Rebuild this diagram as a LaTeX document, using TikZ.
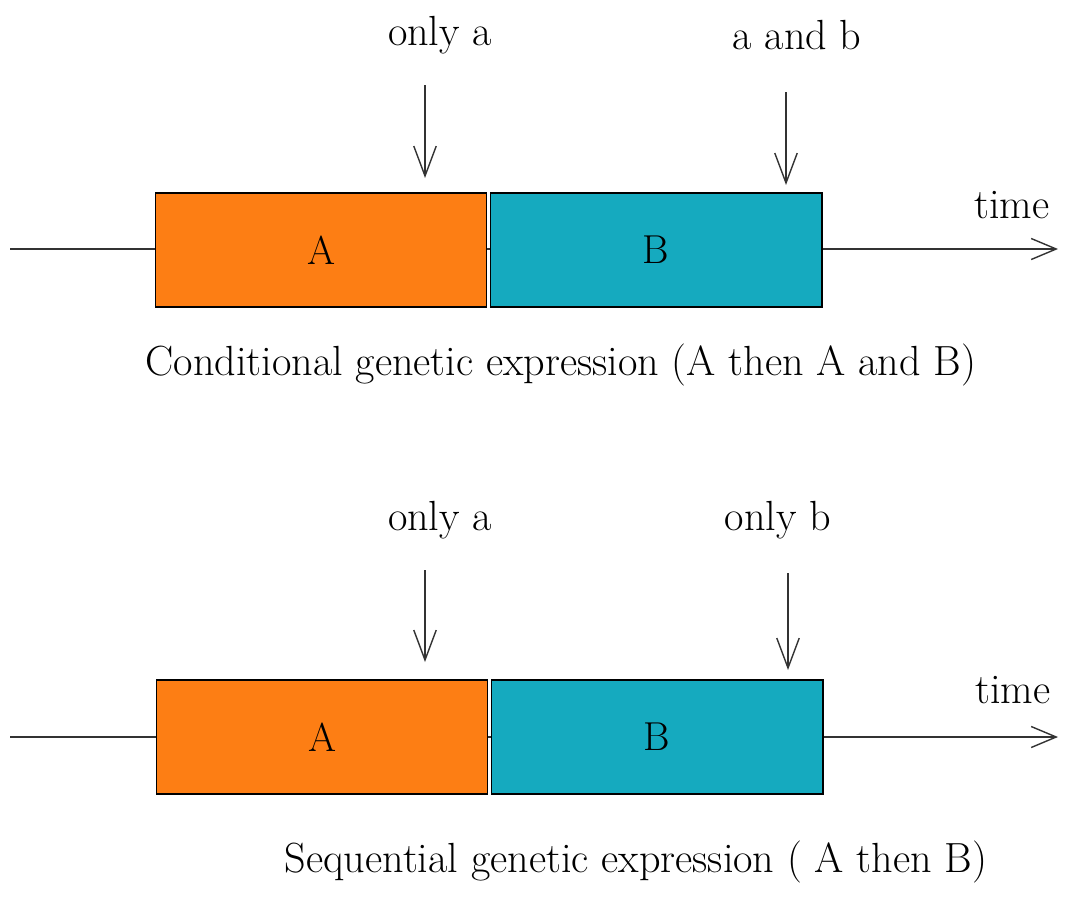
\documentclass[tikz,border=0pt]{standalone}
\usetikzlibrary{arrows.meta}
\definecolor{geneA}{HTML}{FD7E14}
\definecolor{geneB}{HTML}{15AABF}
\begin{document}
\begin{tikzpicture}[x=0.02cm,y=-0.02cm]
		\tikzstyle{gene}=[draw=black,line width=0.6pt,minimum width=6.64cm,minimum height=2.28cm,inner sep=0pt,font=\fontsize{23}{27}\selectfont]
		\tikzstyle{label}=[font=\fontsize{24}{28}\selectfont,inner sep=1pt]
		\tikzstyle{axis}=[draw=black!80,line width=0.8pt,-{Straight Barb[length=0.5cm,width=0.42cm]}]
		\tikzstyle{marker}=[draw=black!80,line width=0.8pt,-{Straight Barb[length=0.6cm,width=0.45cm]}]
		\useasboundingbox (0,0) rectangle (1069,897);
		% conditional expression
		\begin{scope}
			\coordinate (t0) at (10,249);
			\coordinate (t1) at (1058,249);
			\path[axis] (t0) -- (t1);
			\node [gene,fill=geneA] (gA) at (321,250) {A};
			\node [gene,fill=geneB] (gB) at (656,250) {B};
			\node [label] (la) at (440,35) {only a};
			\node [label] (lab) at (797,35) {a and b};
			\node [label] (time) at (1012,205) {time};
			\coordinate (m1s) at (425,85);
			\coordinate (m1e) at (425,178);
			\coordinate (m2s) at (786,92);
			\coordinate (m2e) at (786,185);
			\path[marker] (m1s) -- (m1e);
			\path[marker] (m2s) -- (m2e);
			\node [label] (cap1) at (561,365) {Conditional genetic expression (A then A and B)};
		\end{scope}
		% sequential expression
		\begin{scope}
			\coordinate (u0) at (10,737);
			\coordinate (u1) at (1058,737);
			\path[axis] (u0) -- (u1);
			\node [gene,fill=geneA] (hA) at (322,737) {A};
			\node [gene,fill=geneB] (hB) at (657,737) {B};
			\node [label] (lc) at (440,520) {only a};
			\node [label] (ld) at (778,520) {only b};
			\node [label] (time2) at (1013,690) {time};
			\coordinate (m3s) at (425,570);
			\coordinate (m3e) at (425,662);
			\coordinate (m4s) at (788,573);
			\coordinate (m4e) at (788,670);
			\path[marker] (m3s) -- (m3e);
			\path[marker] (m4s) -- (m4e);
			\node [label] (cap2) at (636,862) {Sequential genetic expression ( A then B)};
		\end{scope}
\end{tikzpicture}
\end{document}
